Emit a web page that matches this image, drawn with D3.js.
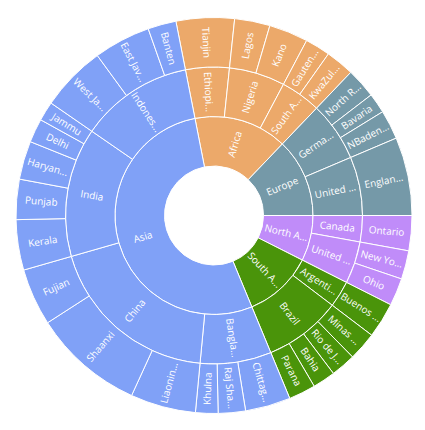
<!DOCTYPE html>
<html>
<head>
<meta charset="utf-8">
<script src="https://cdn.jsdelivr.net/npm/d3@7/dist/d3.min.js"></script>
<style>
  body { margin: 0; background: #fff; }
  svg text { font-family: 'Segoe UI', 'Open Sans', sans-serif; font-size: 10px; fill: #fff; }
</style>
</head>
<body>
<svg></svg>
<script>
const width = 425;
const height = 430;

// continent -> country -> state
const continents = ['Africa', 'Europe', 'North America', 'South America', 'Asia'];
const countries = ['Ethiopia', 'Nigeria', 'South Africa', 'Germany', 'United Kingdom', 'Canada',
  'United States', 'Argentina', 'Brazil', 'Bangladesh', 'China', 'India', 'Indonesia'];
const countryContinent = ['Africa', 'Africa', 'Africa', 'Europe', 'Europe', 'North America',
  'North America', 'South America', 'South America', 'Asia', 'Asia', 'Asia', 'Asia'];
const states = ['Tianjin', 'Lagos', 'Kano', 'Gauteng', 'KwaZulu-Natal',
  'North Rhine-Westphalia', 'Bavaria', 'NBaden-Württemberg', 'England',
  'Ontario', 'New York', 'Ohio',
  'Buenos Aires', 'Minas Gerais', 'Rio de Janeiro', 'Bahia', 'Parana',
  'Chittagong', 'Raj Shahi', 'Khulna', 'Liaoning', 'Shaanxi', 'Fujian',
  'Kerala', 'Punjab', 'Haryana', 'Delhi', 'Jammu', 'West Java', 'East Java', 'Banten'];
const stateCountry = ['Ethiopia', 'Nigeria', 'Nigeria', 'South Africa', 'South Africa',
  'Germany', 'Germany', 'Germany', 'United Kingdom',
  'Canada', 'United States', 'United States',
  'Argentina', 'Brazil', 'Brazil', 'Brazil', 'Brazil',
  'Bangladesh', 'Bangladesh', 'Bangladesh', 'China', 'China', 'China',
  'India', 'India', 'India', 'India', 'India', 'Indonesia', 'Indonesia', 'Indonesia'];
const population = [17.1, 10.4, 11.5, 7.4, 8.4,
  8.8, 5.9, 8.6, 23.0,
  10.3, 8.4, 8.1,
  10.4, 8.4, 7.3, 6.7, 7.9,
  13.3, 8.0, 6.6, 19.2, 32.6, 16.8,
  14.8, 11.8, 11.3, 7.0, 5.7, 19.3, 16.7, 8.3];

const palette = ['#eca96a', '#7599a8', '#c08cf9', '#4a940a', '#80a1f7'];

const cx = 214, cy = 215.5;
const radius = 198;
const startAngle = -11.1 * Math.PI / 180;

const data = {
  name: 'root',
  children: continents.map(c => ({
    name: c,
    children: countries.filter((k, i) => countryContinent[i] === c).map(k => ({
      name: k,
      children: states.map((s, i) => ({ name: s, value: population[i], country: stateCountry[i] }))
        .filter(s => s.country === k)
    }))
  }))
};

const root = d3.hierarchy(data).sum(d => d.value || 0);
d3.partition().size([2 * Math.PI, radius])(root);

const color = d3.scaleOrdinal(continents, palette);

const arc = d3.arc()
  .startAngle(d => d.x0 + startAngle)
  .endAngle(d => d.x1 + startAngle)
  .innerRadius(d => d.y0)
  .outerRadius(d => d.y1);

const svg = d3.select('svg')
  .attr('width', width)
  .attr('height', height);

const g = svg.append('g')
  .attr('transform', `translate(${cx},${cy})`);

const nodes = root.descendants().filter(d => d.depth > 0);

g.selectAll('path')
  .data(nodes)
  .enter()
  .append('path')
  .attr('d', arc)
  .attr('fill', d => color(d.ancestors().find(a => a.depth === 1).data.name))
  .attr('stroke', '#fff')
  .attr('stroke-width', 1);

const labels = g.selectAll('text')
  .data(nodes)
  .enter()
  .append('text')
  .attr('transform', d => {
    let a = ((d.x0 + d.x1) / 2 + startAngle) * 180 / Math.PI;
    a = (a + 360) % 360;
    const r = (d.y0 + d.y1) / 2;
    return `rotate(${a - 90}) translate(${r},0) rotate(${a < 180 ? 0 : 180})`;
  })
  .attr('text-anchor', 'middle')
  .attr('dy', '0.35em')
  .text(d => d.data.name);

// shorten labels that are too long for the ring
const fitWidth = 37, trimWidth = 45.65;
labels.each(function(d) {
  const t = d3.select(this);
  if (this.getComputedTextLength() <= fitWidth) return;
  let s = d.data.name;
  while (s.length > 1) {
    s = s.slice(0, -1);
    t.text(s + '...');
    if (this.getComputedTextLength() <= trimWidth) break;
  }
});
</script>
</body>
</html>
